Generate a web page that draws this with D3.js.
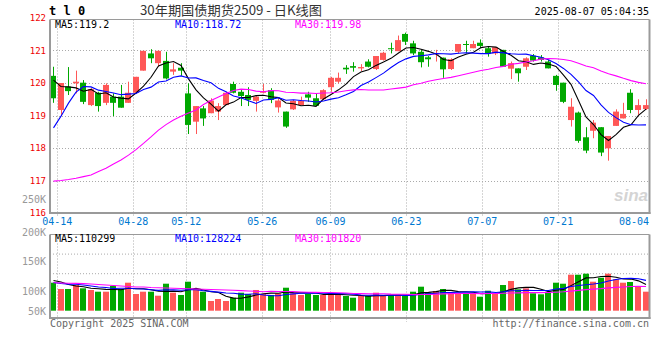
<!DOCTYPE html>
<html><head><meta charset="utf-8">
<script src="https://cdn.jsdelivr.net/npm/d3@7"></script>
<style>
body{margin:0;background:#fff}
svg{display:block}
text{font-family:"DejaVu Sans Mono",monospace}
</style>
</head><body>
<svg id="c" width="660" height="360"></svg>
<script>
// ---------------- DATA ----------------
const dates = ["04-11","04-14","04-15","04-16","04-17","04-18","04-21","04-22","04-23","04-24","04-25","04-28","04-29","04-30",
"05-06","05-07","05-08","05-09","05-12","05-13","05-14","05-15","05-16","05-19","05-20","05-21","05-22","05-23","05-26","05-27","05-28","05-29","05-30",
"06-03","06-04","06-05","06-06","06-09","06-10","06-11","06-12","06-13","06-16","06-17","06-18","06-19","06-20","06-23","06-24","06-25","06-26","06-27","06-30",
"07-01","07-02","07-03","07-04","07-07","07-08","07-09","07-10","07-11","07-14","07-15","07-16","07-17","07-18","07-21","07-22","07-23","07-24","07-25","07-28","07-29","07-30","07-31",
"08-01","08-04","08-05","08-06"];

const openP  = [120.22,119.17,119.89,119.99,120.01,119.32,119.70,119.39,119.58,119.58,119.39,119.70,120.38,120.91,120.61,120.68,120.35,120.47,119.68,118.81,
119.22,119.07,119.12,119.32,119.97,119.73,119.63,119.45,119.70,119.78,119.25,119.12,119.19,119.32,119.65,119.53,119.50,119.87,120.04,120.47,
120.52,120.45,120.66,120.43,120.71,121.07,120.98,121.51,121.22,120.96,120.79,120.88,120.78,120.43,120.96,121.20,121.07,121.24,121.07,120.91,
121.02,120.44,120.45,120.50,120.84,120.79,120.66,120.22,120.01,118.86,119.09,118.33,118.53,118.64,117.99,118.68,118.91,119.70,119.17,119.20];
const highP  = [120.50,120.00,120.49,120.38,120.09,119.84,119.73,119.99,119.68,119.94,120.04,120.19,120.99,121.04,121.00,120.96,120.61,120.61,119.99,119.29,
119.29,119.53,119.38,119.73,120.04,119.81,119.87,119.63,119.97,119.84,119.53,119.12,119.48,119.58,119.73,119.68,119.81,120.19,120.32,120.55,
120.64,120.58,120.73,120.83,120.96,121.24,121.46,121.55,121.30,121.02,120.83,121.02,120.78,120.76,121.20,121.30,121.30,121.34,121.12,121.10,
121.02,120.66,120.45,120.79,120.89,120.86,120.71,120.25,120.01,119.53,119.12,118.64,118.86,118.64,118.37,119.19,119.39,119.81,119.50,119.50];
const lowP   = [119.39,118.98,119.63,119.68,119.35,119.29,119.12,119.32,118.98,119.24,119.39,119.66,120.38,120.61,120.50,120.11,120.25,120.22,118.43,118.43,
118.68,119.07,118.86,119.32,119.68,119.29,119.29,119.12,119.68,119.38,119.09,118.62,119.17,119.32,119.42,119.30,119.48,119.73,119.99,120.28,
120.35,120.37,120.48,120.40,120.69,120.91,120.98,121.17,120.86,120.48,120.50,120.66,120.16,120.40,120.91,120.91,121.07,121.07,120.81,120.86,
120.50,120.12,120.04,120.40,120.66,120.66,120.45,119.76,119.38,118.66,118.16,117.84,118.30,117.75,117.61,118.68,118.91,119.07,119.02,119.17];
const closeP = [119.53,120.00,119.75,120.04,119.42,119.81,119.29,119.94,119.39,119.24,119.70,120.19,120.99,120.76,120.99,120.14,120.42,120.38,118.71,119.29,
118.91,119.46,119.29,119.70,119.70,119.60,119.48,119.58,119.75,119.48,119.46,118.66,119.45,119.45,119.55,119.30,119.78,120.16,120.16,120.42,
120.47,120.49,120.50,120.83,120.93,121.04,121.32,121.27,120.91,120.64,120.73,120.91,120.42,120.73,121.20,121.17,121.20,121.14,120.91,121.10,
120.50,120.61,120.30,120.76,120.69,120.71,120.45,119.94,119.42,119.27,118.22,117.92,118.78,117.86,118.37,119.12,119.05,119.17,119.32,119.32];
const volume = [118000,91500,91500,108300,94400,87300,80100,80100,104100,91500,118000,70400,80100,80100,63200,113800,75900,66200,122200,91500,
80100,40900,49300,40900,54800,75900,70400,87300,70400,66200,73300,96900,73300,66200,70400,66200,66200,75900,66200,62000,
54800,62000,62000,75900,62000,66200,66200,62000,80100,101200,75900,83000,91500,75900,75900,73300,73300,59000,84300,73300,
108300,125200,90200,94400,73300,69100,75900,118000,113800,151700,151700,156000,122200,139100,156000,132400,118000,121000,101200,80100];

// moving-average values before enough bars exist in the window
const ma5Head  = [120.09,119.89,119.88,119.85];
const ma10Head = [118.62,118.98,119.38,119.72,119.89,119.88,119.78,119.74,119.69];
const ma30Head = [116.98,117.00,117.03,117.07,117.12,117.17,117.28,117.38,117.51,117.63,117.78,117.95,118.14,118.34,118.55,
118.72,118.86,118.98,119.08,119.17,119.34,119.46,119.57,119.68,119.77,119.81,119.80,119.75,119.73];
const vma5Head  = [127300,121000,110400,104100];
const vma10Head = [118900,114600,111300,111300,108300,104100,99900,97800,93600];
const vma30Head = [118000,116800,115900,115100,114200,112500,110400,108300,106200,104100,102000,99900,99900,97800,96900,
95600,94400,93600,92700,91500,90200,89400,88500,87300,86000,84800,83000,81800,80100];

const priceTicks = [122,121,120,119,118,117,116];
const volTickLabels = ["250K","200K","150K","100K","50K"];
const volTickValues = [250000,200000,150000,100000,50000];
const dateTicks = ["04-14","04-28","05-12","05-26","06-09","06-23","07-07","07-21","08-04"];

const title = "30年期国债期货2509 - 日K线图";
const symbol = "t l 0";
const stamp = "2025-08-07 05:04:35";
const priceMaText = ["MA5:119.2","MA10:118.72","MA30:119.98"];
const volMaText = ["MA5:110299","MA10:128224","MA30:101820"];

// ---------------- LAYOUT ----------------
const svg = d3.select("#c");
const L = 50, R = 649.5;
const mainTop = 19.5, mainBot = 213;
const volTop = 234.5, volBot = 318;
const RED = "#ff5757", GREEN = "#00a800";
const maColors = ["#000000","#0000ff","#ff00ff"];

const x  = d3.scaleLinear().domain([0, dates.length-1]).range([53, 645.5]);
const xg = d3.scaleLinear().domain([1, 77]).range([57.3, 634]);
const y  = d3.scaleLinear().domain([116,122]).range([213,18]);
const yv = d3.scaleLinear().domain([0,100000]).range([310.7, 310.7-100000/4215]);
const yvLabel = d3.scaleLinear().domain([50000,100000,150000,200000,250000]).range([311,291,261,232,199]);

function ma(arr, n, head){
  return arr.map((d,i)=> i < n-1 ? head[i] : d3.mean(arr.slice(i-n+1, i+1)));
}
const ma5 = ma(closeP,5,ma5Head), ma10 = ma(closeP,10,ma10Head), ma30 = ma(closeP,30,ma30Head);
const vma5 = ma(volume,5,vma5Head), vma10 = ma(volume,10,vma10Head), vma30 = ma(volume,30,vma30Head);

svg.append("rect").attr("width",660).attr("height",360).attr("fill","#fff");

const defs = svg.append("defs");
defs.append("clipPath").attr("id","mainClip").append("rect").attr("x",L).attr("y",mainTop).attr("width",R-L).attr("height",mainBot-mainTop);
defs.append("clipPath").attr("id","volClip").append("rect").attr("x",L).attr("y",volTop).attr("width",R-L).attr("height",volBot-volTop);

// grid
const grid = svg.append("g").attr("stroke","#aaa").attr("stroke-width",1).attr("stroke-dasharray","1,2");
grid.selectAll(".hp").data(priceTicks.filter(t=>t>116 && t<122)).join("line")
  .attr("x1",L).attr("x2",R).attr("y1",d=>Math.round(y(d))+0.5).attr("y2",d=>Math.round(y(d))+0.5);
const tickIdx = dateTicks.map(t=>dates.indexOf(t));
grid.selectAll(".vp").data(tickIdx.slice(0,-1)).join("line")
  .attr("x1",d=>Math.round(xg(d))+0.5).attr("x2",d=>Math.round(xg(d))+0.5).attr("y1",mainTop).attr("y2",217);
grid.selectAll(".vv").data(tickIdx.slice(0,-1)).join("line")
  .attr("x1",d=>Math.round(xg(d))+0.5).attr("x2",d=>Math.round(xg(d))+0.5).attr("y1",volTop).attr("y2",322);
grid.selectAll(".hv").data([1,2]).join("line")
  .attr("x1",L).attr("x2",R).attr("y1",d=>volTop+d*19.6).attr("y2",d=>volTop+d*19.6);

// watermark
svg.append("text").attr("x",648).attr("y",201).attr("text-anchor","end")
  .style("font-family","Arial, 'Liberation Sans', sans-serif").style("font-style","italic").style("font-weight","bold")
  .attr("font-size",17).attr("fill","#d4d4d4").text("sina");

// candles
const cg = svg.append("g").attr("clip-path","url(#mainClip)");
const idx = d3.range(dates.length);
const up = i => closeP[i] >= openP[i];
cg.selectAll(".wick").data(idx).join("line")
  .attr("x1",i=>Math.round(x(i))+0.5).attr("x2",i=>Math.round(x(i))+0.5)
  .attr("y1",i=>y(highP[i])).attr("y2",i=>y(lowP[i]))
  .attr("stroke",i=>up(i)?RED:GREEN).attr("stroke-width",1);
cg.selectAll(".body").data(idx).join("rect")
  .attr("x",i=>Math.round(x(i))-3).attr("width",6)
  .attr("y",i=>y(Math.max(openP[i],closeP[i])))
  .attr("height",i=>Math.max(1, y(Math.min(openP[i],closeP[i]))-y(Math.max(openP[i],closeP[i]))))
  .attr("fill",i=>up(i)?RED:GREEN);

const lineP = d3.line().x((d,i)=>x(i)+0.5).y(d=>y(d));
[ma5,ma10,ma30].forEach((s,k)=>{
  cg.append("path").attr("d",lineP(s)).attr("fill","none").attr("stroke",maColors[k]).attr("stroke-width",1.1);
});

// volume
const vg = svg.append("g").attr("clip-path","url(#volClip)");
vg.selectAll(".vb").data(idx).join("rect")
  .attr("x",i=>Math.round(x(i))-3).attr("width",6)
  .attr("y",i=>yv(volume[i])).attr("height",i=>yv(0)-yv(volume[i]))
  .attr("fill",i=>up(i)?RED:GREEN);
const lineV = d3.line().x((d,i)=>x(i)+0.5).y(d=>yv(d));
[vma5,vma10,vma30].forEach((s,k)=>{
  vg.append("path").attr("d",lineV(s)).attr("fill","none").attr("stroke",maColors[k]).attr("stroke-width",1.1);
});

// frames
const fr = svg.append("g").attr("stroke","#9a9a9a");
fr.append("line").attr("x1",L).attr("x2",R).attr("y1",mainTop).attr("y2",mainTop).attr("stroke-width",1);
fr.append("line").attr("x1",L).attr("x2",L).attr("y1",mainTop).attr("y2",mainBot+1).attr("stroke-width",2);
fr.append("line").attr("x1",R).attr("x2",R).attr("y1",mainTop).attr("y2",mainBot+1).attr("stroke-width",2);
fr.append("line").attr("x1",L-1).attr("x2",R+1).attr("y1",mainBot).attr("y2",mainBot).attr("stroke-width",2);
fr.append("line").attr("x1",L).attr("x2",R).attr("y1",volTop).attr("y2",volTop).attr("stroke-width",1);
fr.append("line").attr("x1",L).attr("x2",L).attr("y1",volTop).attr("y2",volBot+1).attr("stroke-width",2);
fr.append("line").attr("x1",R).attr("x2",R).attr("y1",volTop).attr("y2",volBot+1).attr("stroke-width",2);
fr.append("line").attr("x1",L-1).attr("x2",R+1).attr("y1",volBot).attr("y2",volBot).attr("stroke-width",2);

// texts
svg.append("text").attr("x",49).attr("y",15).attr("font-size",12).attr("font-weight","bold").attr("fill","#000").text(symbol);
svg.append("text").attr("x",140).attr("y",15).attr("font-size",13).attr("fill","#333")
  .style("font-family","'Noto Sans CJK SC','DejaVu Sans',sans-serif").attr("textLength",182).attr("lengthAdjust","spacingAndGlyphs").text(title);
svg.append("text").attr("x",649).attr("y",15).attr("text-anchor","end").attr("font-size",10).attr("fill","#000").text(stamp);

const maX = [55,175,295];
svg.selectAll(".pm").data(priceMaText).join("text").attr("x",(d,i)=>maX[i]).attr("y",28)
  .attr("font-size",10).attr("fill",(d,i)=>maColors[i]).text(d=>d);
svg.selectAll(".vm").data(volMaText).join("text").attr("x",(d,i)=>maX[i]).attr("y",242)
  .attr("font-size",10).attr("fill",(d,i)=>maColors[i]).text(d=>d);

svg.selectAll(".vl").data(volTickValues).join("text").attr("x",46).attr("y",d=>yvLabel(d)+3.5)
  .attr("text-anchor","end").attr("font-size",10).attr("fill","#999").text((d,i)=>volTickLabels[i]);
svg.selectAll(".pl").data(priceTicks).join("text").attr("x",46).attr("y",d=>y(d)+3)
  .attr("text-anchor","end").attr("font-size",9).attr("fill","#ee0000").text(d=>d);

svg.selectAll(".xl").data(dateTicks).join("text").attr("x",d=>xg(dates.indexOf(d))).attr("y",225)
  .attr("text-anchor","middle").attr("font-size",10).attr("fill","#0078d0").text(d=>d);

svg.append("text").attr("x",50).attr("y",327).attr("font-size",10).attr("fill","#666").text("Copyright 2025 SINA.COM");
svg.append("text").attr("x",649).attr("y",327).attr("text-anchor","end").attr("font-size",10).attr("fill","#666").text("http://finance.sina.com.cn");
</script>
</body></html>
